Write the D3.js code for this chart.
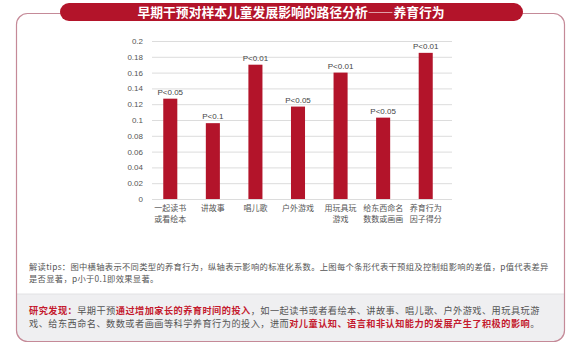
<!DOCTYPE html>
<html lang="zh">
<head>
<meta charset="UTF-8">
<title>早期干预对样本儿童发展影响的路径分析——养育行为</title>
<style>
    body { margin: 0; background: #fff; }
    svg { display: block; font-family: "Noto Sans CJK SC", "Noto Sans", sans-serif; }
    .y-axis .domain { display: none; }
    .y-axis line { stroke: #dcdcdc; }
    .y-axis text { fill: #555; font-size: 8px; font-family: "Liberation Sans", Arial, sans-serif; }
</style>
</head>
<body>
<script src="https://d3js.org/d3.v7.min.js"></script>
<script>
// 数据
const categories = [
    ["一起读书", "或看绘本"],
    ["讲故事"],
    ["唱儿歌"],
    ["户外游戏"],
    ["用玩具玩", "游戏"],
    ["给东西命名", "数数或画画"],
    ["养育行为", "因子得分"]
];
const values = [0.127, 0.096, 0.17, 0.117, 0.16, 0.103, 0.185];
const pLabels = ["P<0.05", "P<0.1", "P<0.01", "P<0.05", "P<0.01", "P<0.05", "P<0.01"];
const yTicks = [0, 0.02, 0.04, 0.06, 0.08, 0.1, 0.12, 0.14, 0.16, 0.18, 0.2];

const title = "早期干预对样本儿童发展影响的路径分析——养育行为";
const tipsLines = [
    "解读tips：图中横轴表示不同类型的养育行为，纵轴表示影响的标准化系数。上图每个条形代表干预组及控制组影响的差值，p值代表差异",
    "是否显著，p小于0.1即效果显著。"
];
// 研究发现：[文字, 是否红色加粗]
const findLines = [
    [["研究发现：", true], ["早期干预", false], ["通过增加家长的养育时间的投入", true],
     ["，如一起读书或者看绘本、讲故事、唱儿歌、户外游戏、用玩具玩游", false]],
    [["戏、给东西命名、数数或者画画等科学养育行为的投入，进而", false],
     ["对儿童认知、语言和非认知能力的发展产生了积极的影响", true], ["。", false]]
];

const width = 580, height = 348;
const red = "#b3142a";

const svg = d3.select("body").append("svg")
    .attr("width", width)
    .attr("height", height);

// 外框
const box = { x: 16.5, y: 13.5, w: 548, h: 328, r: 11 };
svg.append("clipPath").attr("id", "boxClip")
    .append("rect")
    .attr("x", box.x).attr("y", box.y)
    .attr("width", box.w).attr("height", box.h)
    .attr("rx", box.r);

// 下方灰色区域
svg.append("rect")
    .attr("clip-path", "url(#boxClip)")
    .attr("x", box.x).attr("y", 294)
    .attr("width", box.w).attr("height", box.h)
    .attr("fill", "#efeff1");
svg.append("line")
    .attr("x1", box.x).attr("x2", box.x + box.w)
    .attr("y1", 294).attr("y2", 294)
    .attr("stroke", "#e2e2e4");

svg.append("rect")
    .attr("x", box.x).attr("y", box.y)
    .attr("width", box.w).attr("height", box.h)
    .attr("rx", box.r)
    .attr("fill", "none")
    .attr("stroke", "#c58a98")
    .attr("stroke-width", 1.2);

// 标题条
svg.append("rect")
    .attr("x", 60).attr("y", 3)
    .attr("width", 463).attr("height", 18)
    .attr("rx", 9)
    .attr("fill", red);
svg.append("text")
    .attr("x", 291).attr("y", 16.5)
    .attr("text-anchor", "middle")
    .attr("fill", "#fff")
    .attr("font-size", 12.8)
    .attr("font-weight", "bold")
    .text(title);

// 坐标
const x = d3.scaleBand()
    .domain(d3.range(categories.length))
    .range([149, 447])
    .paddingInner(0.67)
    .paddingOuter(0.335);

const y = d3.scaleLinear()
    .domain([0, 0.2])
    .range([199, 41]);

const gridLeft = 152, gridRight = 452;

svg.append("g")
    .attr("class", "y-axis")
    .attr("transform", `translate(${gridLeft},0)`)
    .call(d3.axisLeft(y)
        .tickValues(yTicks)
        .tickSize(-(gridRight - gridLeft))
        .tickPadding(9)
        .tickFormat(d => d3.format("~g")(+d.toFixed(2))));

// 条形
svg.append("g").selectAll("rect")
    .data(values)
    .join("rect")
    .attr("x", (d, i) => x(i))
    .attr("y", d => y(d))
    .attr("width", x.bandwidth())
    .attr("height", d => y(0) - y(d))
    .attr("fill", red);

// P 值标注
svg.append("g").selectAll("text")
    .data(values)
    .join("text")
    .attr("x", (d, i) => x(i) + x.bandwidth() / 2)
    .attr("y", d => y(d) - 4)
    .attr("text-anchor", "middle")
    .attr("fill", "#444")
    .attr("font-size", 8)
    .attr("font-family", "Liberation Sans, Arial, sans-serif")
    .text((d, i) => pLabels[i]);

// 横轴标签
categories.forEach((lines, i) => {
    lines.forEach((s, j) => {
        svg.append("text")
            .attr("x", x(i) + x.bandwidth() / 2)
            .attr("y", 211 + j * 11)
            .attr("text-anchor", "middle")
            .attr("fill", "#555")
            .attr("font-size", 8)
            .text(s);
    });
});

// 解读 tips
svg.append("g").selectAll("text")
    .data(tipsLines)
    .join("text")
    .attr("x", 29)
    .attr("y", (d, i) => 270 + i * 12.2)
    .attr("fill", "#555")
    .attr("font-size", 8.3)
    .attr("letter-spacing", 0.3)
    .text(d => d);

// 研究发现（每段单独一个 text，按宽度依次排开）
const findG = svg.append("g");
findLines.forEach((parts, i) => {
    let cx = 29;
    parts.forEach(([s, hl]) => {
        const t = findG.append("text")
            .attr("x", cx)
            .attr("y", 314 + i * 12.6)
            .attr("font-size", 9.2)
            .attr("letter-spacing", 0.45)
            .attr("fill", hl ? "#c41a2e" : "#555")
            .attr("font-weight", hl ? "bold" : "normal")
            .text(s);
        cx += t.node().getComputedTextLength();
    });
});
</script>
</body>
</html>
